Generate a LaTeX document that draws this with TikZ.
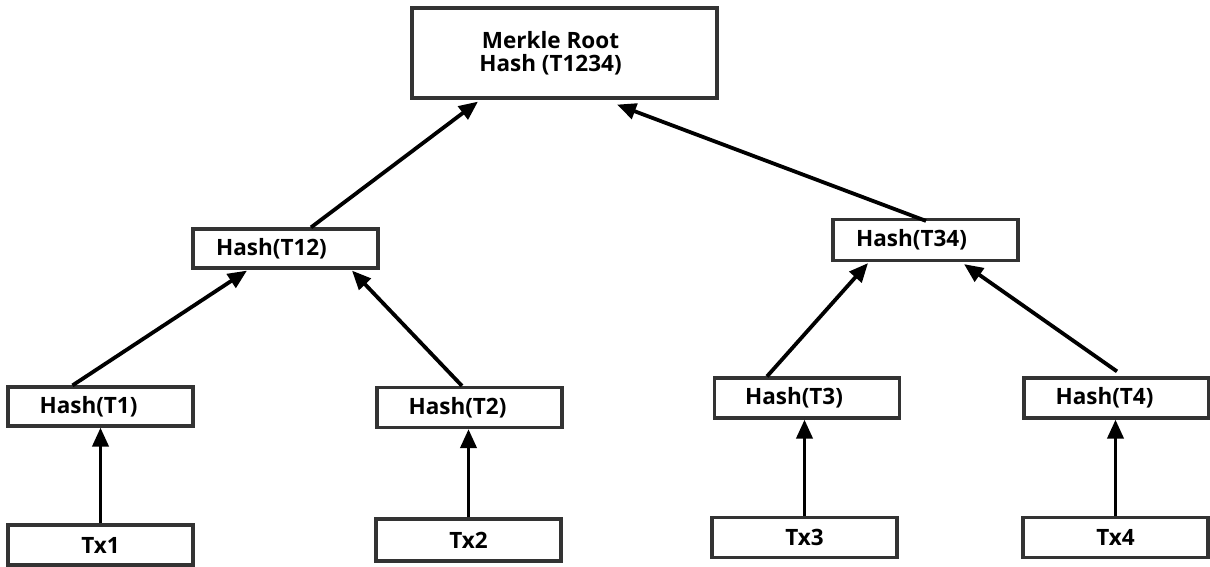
\documentclass[tikz,border=0pt]{standalone}
\usepackage{fontspec}
\setmainfont{Open Sans}
\usetikzlibrary{arrows.meta}
\begin{document}
\begin{tikzpicture}[x=1pt,y=1pt,
  hashbox/.style={draw=black!80, line width=3.2pt, fill=white, inner sep=0pt,
    minimum width=185pt, minimum height=40pt, font=\bfseries\fontsize{22.5}{23.5}\selectfont},
  rootbox/.style={hashbox, minimum width=305pt, minimum height=90pt, align=center},
  arr/.style={line width=3.8pt, -{Triangle[length=19pt,width=16pt]}}]
\useasboundingbox (0,0) rectangle (1210,566);
% Merkle tree nodes
\node[rootbox] (root) at (564.5,513) {Merkle Root\hspace*{28pt}\\Hash (T1234)\hspace*{28pt}};
\node[hashbox, minimum height=39pt] (h12) at (285.5,317.5) {Hash(T12)\hspace*{28pt}};
\node[hashbox, minimum height=41pt] (h34) at (925.5,326) {Hash(T34)\hspace*{28pt}};
\node[hashbox, minimum height=39pt] (h1) at (100.5,159.5) {Hash(T1)\hspace*{24pt}};
\node[hashbox] (h2) at (469.5,158.5) {Hash(T2)\hspace*{24pt}};
\node[hashbox] (h3) at (807,168) {Hash(T3)\hspace*{26pt}};
\node[hashbox] (h4) at (1116.5,168) {Hash(T4)\hspace*{24pt}};
\node[hashbox] (tx1) at (100.5,21) {Tx1};
\node[hashbox, minimum height=42pt] (tx2) at (468.5,26) {Tx2};
\node[hashbox] (tx3) at (804.5,28.5) {Tx3};
\node[hashbox] (tx4) at (1115.5,28.5) {Tx4};
% transaction hashes
\draw[arr] (tx1.north) -- (tx1.north |- h1.south);
\draw[arr] (tx2.north) -- (tx2.north |- h2.south);
\draw[arr] (tx3.north) -- (tx3.north |- h3.south);
\draw[arr] (tx4.north) -- (tx4.north |- h4.south);
% pairwise hashes
\draw[arr] ([xshift=-28pt]h1.north) -- ([xshift=-38.5pt,yshift=-1pt]h12.south);
\draw[arr] ([xshift=-7.5pt]h2.north) -- ([xshift=66.5pt,yshift=-1pt]h12.south);
\draw[arr] ([xshift=-40pt]h3.north) -- ([xshift=-57.5pt,yshift=-1pt]h34.south);
\draw[arr] ([xshift=0.5pt,yshift=5pt]h4.north) -- ([xshift=38.5pt,yshift=-2pt]h34.south);
% root
\draw[arr] ([xshift=25.5pt]h12.north) -- ([xshift=-86.5pt,yshift=-2pt]root.south);
\draw[arr] ([xshift=0.5pt,yshift=-3pt]h34.north) -- ([xshift=52.5pt,yshift=-5pt]root.south);
\end{tikzpicture}
\end{document}
